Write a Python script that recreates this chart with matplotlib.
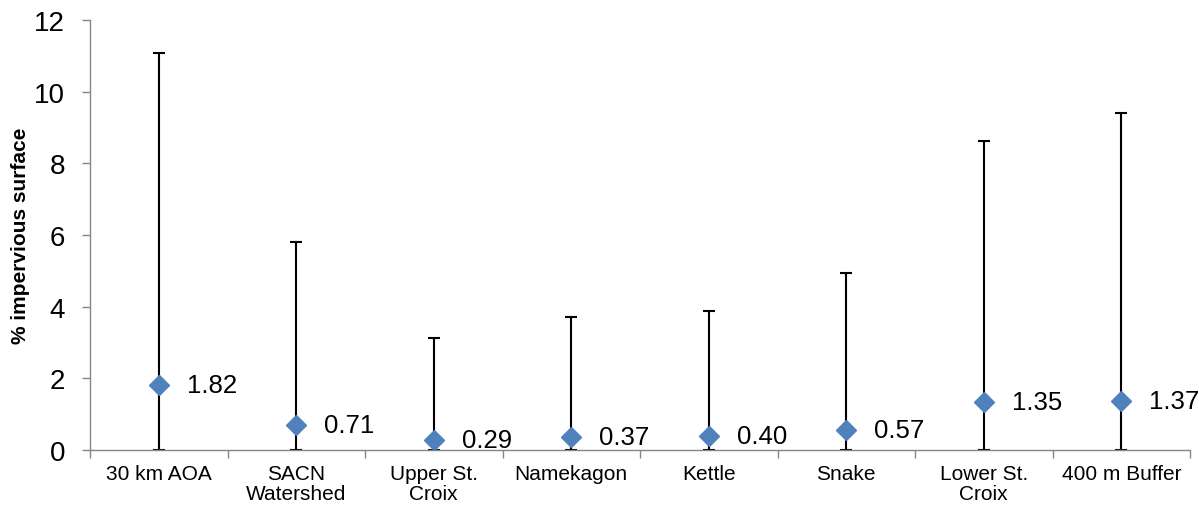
import matplotlib
matplotlib.use("Agg")
import matplotlib.pyplot as plt
import numpy as np

categories = ["30 km AOA", "SACN\nWatershed", "Upper St.\nCroix", "Namekagon",
              "Kettle", "Snake", "Lower St.\nCroix", "400 m Buffer"]
means = [1.82, 0.71, 0.29, 0.37, 0.40, 0.57, 1.35, 1.37]
maxima = [11.08, 5.8, 3.13, 3.71, 3.88, 4.93, 8.63, 9.4]
minima = [0, 0, 0, 0, 0, 0, 0, 0]
yticks = [0, 2, 4, 6, 8, 10, 12]

plt.rcParams['font.family'] = ['Liberation Sans', 'DejaVu Sans']

fig = plt.figure(figsize=(11.99, 5.10), dpi=100)
ax = fig.add_axes([90/1199, 59/510, 1100/1199, 430/510])

x = np.arange(len(categories))
means_a = np.array(means)
lo = means_a - np.array(minima)
hi = np.array(maxima) - means_a
ax.errorbar(x, means, yerr=[lo, hi], fmt='none', ecolor='black', elinewidth=1.5,
            capsize=4.3, capthick=1.5, zorder=2)
ax.plot(x, means, linestyle='none', marker='D', markersize=10.5,
        color='#4F81BD', markeredgecolor='#4F81BD', zorder=3)
for xi, v in zip(x, means):
    ax.annotate(f"{v:.2f}", (xi, v), xytext=(20, 0), textcoords='offset points',
                va='center', ha='left', fontsize=18.5)

ax.set_xlim(-0.5, len(categories) - 0.5)
ax.set_ylim(0, 12)
ax.set_yticks(yticks)
ax.set_yticklabels([str(t) for t in yticks], fontsize=20)
ax.set_xticks(x)
ax.set_xticklabels(categories, fontsize=15, linespacing=1.05)
ax.set_xticks(np.arange(len(categories) + 1) - 0.5, minor=True)
ax.tick_params(axis='x', which='major', length=0, pad=10)
ax.tick_params(axis='x', which='minor', length=6, color='#868686', width=1)
ax.tick_params(axis='y', length=6, color='#868686', width=1, pad=12)
ax.set_ylabel("% impervious surface", fontsize=15, fontweight='bold', labelpad=3)

for s in ['top', 'right']:
    ax.spines[s].set_visible(False)
for s in ['left', 'bottom']:
    ax.spines[s].set_color('#868686')
    ax.spines[s].set_linewidth(1)

fig.savefig("out.png", dpi=100)
